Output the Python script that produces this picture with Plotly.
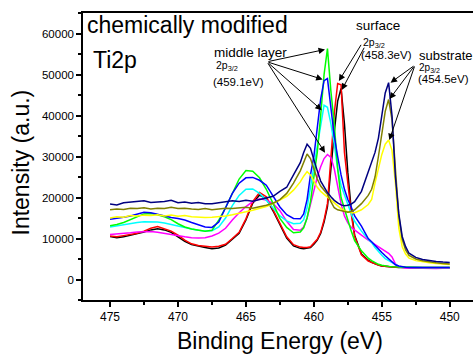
import plotly.graph_objects as go

# ---------------- data (binding energy grid, eV) ----------------
energy = [475, 474.5, 474, 473.5, 473, 472.5, 472, 471.5, 471, 470.5,
          470, 469.5, 469, 468.5, 468, 467.5, 467, 466.5, 466, 465.5,
          465, 464.5, 464, 463.5, 463, 462.5, 462, 461.5, 461, 460.75,
          460.5, 460.25, 460, 459.75, 459.5, 459.25, 459, 458.75, 458.5, 458.25,
          458, 457.75, 457.5, 457.25, 457, 456.5, 456, 455.75, 455.5, 455.25,
          455, 454.75, 454.5, 454.25, 454, 453.75, 453.5, 453.25, 453, 452.5,
          452, 451.5, 451, 450.5, 450]

black = [10500, 10200, 10400, 10800, 11100, 11600, 12100, 12400, 12100, 11500,
         10400, 9300, 8500, 8100, 7800, 7500, 7700, 8400, 9800, 11300,
         14500, 18600, 20600, 19700, 16700, 13200, 10100, 8200, 7600, 7500,
         7600, 7800, 8600, 9600, 11200, 14000, 17800, 28000, 36000, 43500,
         46600, 38000, 26000, 17000, 10800, 6200, 4700, 4200, 3800, 3500,
         3300, 3200, 3100, 3000, 3000, 2950, 2950, 2900, 2900, 2900,
         2850, 2850, 2850, 2850, 2850]

red = [10600, 10400, 10700, 11000, 11300, 11800, 12500, 12900, 12300, 11800,
       10800, 9600, 8700, 8300, 8100, 7900, 8100, 8600, 10000, 11500,
       14800, 19000, 21200, 20200, 17000, 13500, 10400, 8500, 7900, 7800,
       7800, 8000, 8800, 9800, 11500, 14500, 18500, 30000, 40500, 47800,
       47500, 31000, 23000, 16000, 10500, 6000, 4500, 4100, 3800, 3500,
       3300, 3200, 3100, 3050, 3000, 3000, 2950, 2950, 2900, 2900,
       2900, 2900, 2900, 2900, 2900]

magenta = [11000, 11100, 11300, 11400, 11600, 11700, 11700, 11500, 11200, 10900,
           10600, 10400, 10200, 10100, 10200, 10600, 11300, 12500, 14500, 16300,
           17800, 19000, 19700, 19400, 18500, 16800, 14200, 12200, 12000, 12800,
           15000, 18500, 22000, 25000, 27500, 29500, 30500, 29800, 27000, 23000,
           18500, 15500, 13800, 12700, 12000, 10800, 9600, 9100, 8500, 7900,
           7400, 6900, 6400, 5500, 3800, 3100, 2900, 2800, 2800, 2750,
           2700, 2800, 2700, 2750, 2750]

cyan = [12800, 13100, 13300, 13600, 13900, 14100, 14100, 14000, 13800, 13400,
        13000, 12600, 12300, 12000, 11800, 11900, 12800, 15000, 18000, 20500,
        22000, 22100, 21000, 19300, 17300, 15500, 14300, 13600, 13700, 14600,
        17500, 22500, 28000, 33000, 38000, 42500, 42000, 38000, 33000, 27000,
        23000, 20500, 18000, 16000, 14200, 11800, 9800, 9000, 7800, 6800,
        5900, 5100, 4600, 4000, 3500, 3200, 3050, 3000, 2950, 2900,
        2900, 2900, 2900, 2900, 2900]

green = [13100, 13400, 13900, 14600, 15300, 16000, 16100, 15800, 15300, 14600,
         13600, 12800, 12300, 12000, 11800, 12000, 14500, 17500, 21000, 24500,
         26600, 26400, 24800, 22000, 18500, 14900, 12700, 11400, 11600, 12600,
         15000, 19000, 25000, 31000, 40000, 50000, 56300, 46000, 38000, 27000,
         20000, 17000, 14500, 11800, 9500, 7000, 5200, 4600, 4100, 3700,
         3500, 3300, 3200, 3100, 3050, 3000, 3000, 2950, 2950, 2900,
         2900, 2900, 2900, 2900, 2900]

blue = [14700, 14900, 15200, 15500, 15900, 16400, 16300, 15900, 15500, 15100,
        14900, 14500, 13900, 13300, 12800, 12700, 14000, 17500, 21000, 23500,
        24800, 24900, 24200, 23000, 20500, 17700, 15800, 14900, 14800, 16000,
        19500, 25500, 30000, 37000, 44000, 48500, 49000, 42000, 35000, 30000,
        25500, 22000, 19500, 17700, 15500, 13000, 10000, 9200, 8300, 7300,
        6600, 5800, 5000, 4200, 3600, 3300, 3100, 3000, 2950, 2900,
        2900, 2900, 2900, 2900, 2900]

yellow = [15000, 15300, 15200, 15600, 15500, 15700, 15600, 15800, 15500, 15700,
          15400, 15600, 15300, 15200, 15100, 15200, 15300, 15500, 15800, 16100,
          16500, 16900, 17300, 17800, 18500, 19300, 20300, 21800, 23800, 25200,
          26300, 25500, 24000, 22500, 21500, 20800, 20200, 19500, 18700, 17900,
          17300, 16800, 16500, 16300, 16300, 17000, 18300, 19500, 23500, 27000,
          30500, 33000, 34000, 31500, 23500, 12500, 8000, 6200, 5200, 4600,
          4300, 4100, 3900, 3750, 3650]

olive = [17000, 17200, 17100, 17400, 17300, 17500, 17200, 17400, 17300, 17600,
         17300, 17400, 17200, 17100, 17300, 17000, 17200, 17400, 17300, 17500,
         17600, 17400, 17700, 18100, 18600, 19500, 21000, 23500, 26500, 28700,
         30600, 29500, 27000, 24500, 22800, 21800, 20800, 19000, 17500, 17000,
         16800, 16500, 16400, 16600, 17000, 18500, 20500, 22000, 25000, 30000,
         35500, 41000, 43900, 39000, 27000, 15500, 9800, 7200, 5900, 5000,
         4600, 4300, 4100, 3900, 3800]

navy = [18400, 18200, 18700, 18900, 19000, 19200, 18800, 18900, 19000, 19300,
        18700, 18900, 18600, 18800, 18500, 18500, 18700, 18900, 19200, 19000,
        19300, 19100, 19500, 19800, 20300, 21500, 22500, 25500, 28500, 31000,
        33000, 32000, 29000, 26500, 24000, 22500, 21200, 20200, 19300, 18700,
        18200, 18000, 18100, 18400, 19000, 21500, 26000, 28500, 31000, 34500,
        40000, 45500, 48000, 40000, 25000, 16000, 10500, 8000, 6400, 5400,
        4900, 4600, 4400, 4250, 4150]

x_ticks = [475, 470, 465, 460, 455, 450]
y_ticks = [0, 10000, 20000, 30000, 40000, 50000, 60000]

# ---------------- layout geometry ----------------
W, H = 473, 354
L, R, T, B = 83, 0, 13, 54
PW, PH = W - L - R, H - T - B
X_RANGE = [476.99, 448.29]
Y_RANGE = [-5000, 65000]
FONT = "Arial, Liberation Sans, sans-serif"


def px(xp, yp):
    """pixel position -> paper coordinates"""
    return (xp - L) / PW, (H - B - yp) / PH


fig = go.Figure()
series = [
    ("black", black, "#000000"),
    ("red", red, "#FF0000"),
    ("magenta", magenta, "#FF00FF"),
    ("cyan", cyan, "#00FFFF"),
    ("green", green, "#00FF00"),
    ("blue", blue, "#0000FF"),
    ("yellow", yellow, "#FFFF00"),
    ("olive", olive, "#808000"),
    ("navy", navy, "#000080"),
]
for name, ys, col in series:
    fig.add_trace(go.Scatter(x=energy, y=ys, mode="lines", name=name,
                             line=dict(color=col, width=1.5),
                             showlegend=False))

annotations = []


def text(s, xp, yp, size, xanchor="left", angle=0):
    xx, yy = px(xp, yp)
    annotations.append(dict(text=s, x=xx, y=yy, xref="paper", yref="paper",
                            xanchor=xanchor, yanchor="middle", showarrow=False,
                            textangle=angle, borderpad=0,
                            font=dict(family=FONT, size=size, color="black")))


text("chemically modified", 86, 25.5, 23)
text("Ti2p", 92, 60, 23)
text("middle layer", 213, 52, 13.5)
text("2p<sub>3/2</sub>", 215, 66, 10.5)
text("(459.1eV)", 212, 81.5, 11.5)
text("surface", 355, 26, 13.5)
text("2p<sub>3/2</sub>", 362, 43, 10.5)
text("(458.3eV)", 360, 54.5, 11.5)
text("substrate", 418, 55, 13)
text("2p<sub>3/2</sub>", 418, 67.5, 10)
text("(454.5eV)", 417, 78.5, 11.5)
text("Binding Energy (eV)", 280, 341, 23, xanchor="center")
text("Intensity (a.u.)", 20, 162.5, 23, xanchor="center", angle=-90)

# arrows: (head energy, head intensity, tail energy, tail intensity)
arrows = [
    (459.18, 56100, 463.45, 53100),
    (459.35, 48800, 463.45, 53100),
    (459.42, 41300, 463.45, 53100),
    (459.18, 30900, 463.45, 53100),
    (458.16, 48400, 456.46, 57600),
    (457.95, 46200, 456.24, 56900),
    (454.36, 48000, 452.56, 52300),
    (454.43, 44000, 452.56, 52300),
    (454.45, 34000, 452.56, 52300),
]
for hx, hy, tx, ty in arrows:
    annotations.append(dict(x=hx, y=hy, ax=tx, ay=ty, xref="x", yref="y",
                            axref="x", ayref="y", text="", showarrow=True,
                            arrowhead=2, arrowsize=1.3, arrowwidth=1,
                            arrowcolor="black", standoff=0, startstandoff=0))

axis_common = dict(showline=True, linecolor="black", linewidth=1.5,
                   ticks="outside", ticklen=5, tickwidth=1.5, tickcolor="black",
                   showgrid=False, zeroline=False)

fig.update_layout(
    width=W, height=H,
    margin=dict(l=L, r=R, t=T, b=B, pad=0),
    paper_bgcolor="white", plot_bgcolor="white",
    xaxis=dict(range=X_RANGE, tickmode="array", tickvals=x_ticks,
               ticktext=[str(v) for v in x_ticks], mirror=True,
               tickfont=dict(family=FONT, size=12, color="black"),
               minor=dict(ticks="outside", dtick=2.5, tick0=450, ticklen=3,
                          tickwidth=1.5, tickcolor="black", showgrid=False),
               **axis_common),
    yaxis=dict(range=Y_RANGE, tickmode="array", tickvals=y_ticks,
               ticktext=[str(v) for v in y_ticks], mirror=False,
               tickfont=dict(family=FONT, size=11.5, color="black"),
               minor=dict(ticks="outside", dtick=5000, tick0=0, ticklen=3,
                          tickwidth=1.5, tickcolor="black", showgrid=False),
               **axis_common),
    annotations=annotations,
    showlegend=False,
)

fig.write_html("out.html")
